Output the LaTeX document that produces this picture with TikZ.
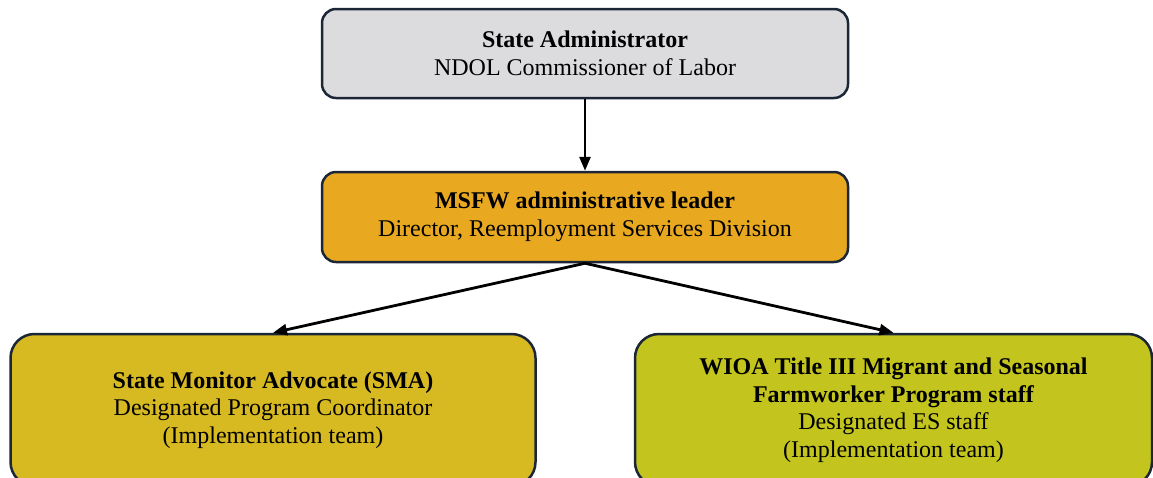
\documentclass[tikz,border=0pt]{standalone}
\usepackage{fontspec}
\setmainfont{Liberation Serif}
\usetikzlibrary{arrows.meta}
\definecolor{boxline}{HTML}{1B2636}
\definecolor{adminfill}{HTML}{DCDCDF}
\definecolor{leaderfill}{HTML}{E8A921}
\definecolor{smafill}{HTML}{D7B921}
\definecolor{stafffill}{HTML}{C3C51E}
\begin{document}
\begin{tikzpicture}[x=1pt, y=-1pt,
        orgbox/.style={draw=boxline, line width=2.5pt, rounded corners=14pt,
            align=center, inner sep=0pt, font=\fontsize{24}{27.5}\selectfont},
        link/.style={-{Triangle[length=14pt,width=11pt]}, line width=2.8pt, black}]
        \clip (0,0) rectangle (1153,477);

        \node[orgbox, fill=adminfill, minimum width=526pt, minimum height=89pt] (admin) at (585,53.5)
            {\textbf{State Administrator}\\NDOL Commissioner of Labor};
        \node[orgbox, fill=leaderfill, minimum width=526pt, minimum height=90pt] (leader) at (585,217)
            {\textbf{MSFW administrative leader}\\Director, Reemployment Services Division};
        \node[orgbox, fill=smafill, rounded corners=24pt, minimum width=525pt, minimum height=152pt] (sma) at (273,410)
            {\textbf{State Monitor Advocate (SMA)}\\Designated Program Coordinator\\(Implementation team)};
        \node[orgbox, fill=stafffill, rounded corners=24pt, minimum width=517pt, minimum height=152pt] (staff) at (893.5,410)
            {\textbf{WIOA Title III Migrant and Seasonal}\\\textbf{Farmworker Program staff}\\Designated ES staff\\(Implementation team)};

        \draw[link] (admin.south) -- (leader.north);
        \draw[link] (leader.south) -- (sma.north);
        \draw[link] (leader.south) -- (staff.north);
    \end{tikzpicture}
\end{document}
